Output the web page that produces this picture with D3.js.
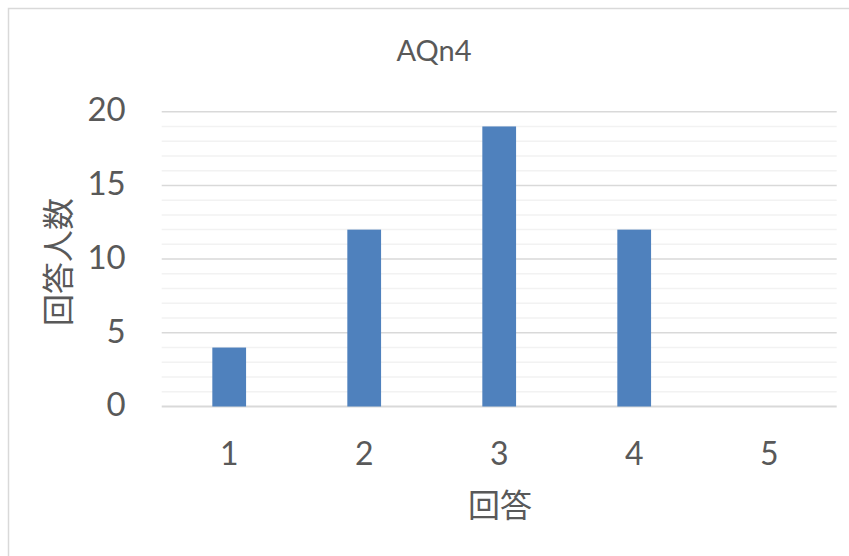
<!DOCTYPE html>
<html>
<head>
<meta charset="utf-8">
<script src="https://cdn.jsdelivr.net/npm/d3@7"></script>
<style>
  html, body { margin: 0; padding: 0; background: #fff; }
  svg { display: block; }
  text { fill: #595959; }
</style>
</head>
<body>
<svg id="chart" width="849" height="556"></svg>
<script>
// Responses per answer choice
const categories = ["1", "2", "3", "4", "5"];
const counts = [4, 12, 19, 12, 0];
const yTicks = [0, 5, 10, 15, 20];
const yMinorTicks = d3.range(0, 21, 1);
const chartTitle = "AQn4";
const xTitle = "回答";
const yTitle = "回答人数";

const W = 849, H = 556;
const plot = { left: 161.7, right: 836.7, top: 111.7, bottom: 406.5 };
const latin = "Lato, 'Noto Sans', sans-serif";
const cjk = "'Noto Sans CJK JP', 'Noto Sans CJK SC', sans-serif";

const svg = d3.select("#chart");

// Chart area outline
svg.append("rect")
  .attr("x", 8.5).attr("y", 8.5)
  .attr("width", W + 20).attr("height", H + 20)
  .attr("fill", "#fff")
  .attr("stroke", "#d9d9d9").attr("stroke-width", 1.5);

const x = d3.scaleBand()
  .domain(categories)
  .range([plot.left, plot.right])
  .paddingInner(0.75)
  .paddingOuter(0.375);

const y = d3.scaleLinear()
  .domain([0, 20])
  .range([plot.bottom, plot.top]);

// Minor gridlines
svg.append("g").selectAll("line")
  .data(yMinorTicks.filter(v => v % 5 !== 0))
  .join("line")
  .attr("x1", plot.left).attr("x2", plot.right)
  .attr("y1", d => y(d)).attr("y2", d => y(d))
  .attr("stroke", "#f2f2f2").attr("stroke-width", 1.5);

// Major gridlines
svg.append("g").selectAll("line")
  .data(yTicks)
  .join("line")
  .attr("x1", plot.left).attr("x2", plot.right)
  .attr("y1", d => y(d)).attr("y2", d => y(d))
  .attr("stroke", "#d9d9d9").attr("stroke-width", d => d === 0 ? 2 : 1.5);

// Bars
svg.append("g").selectAll("rect")
  .data(categories.map((c, i) => ({ c, v: counts[i] })))
  .join("rect")
  .attr("x", d => x(d.c))
  .attr("width", x.bandwidth())
  .attr("y", d => y(d.v))
  .attr("height", d => y(0) - y(d.v))
  .attr("fill", "#4f81bd");

// Y axis tick labels
const yAxis = d3.axisLeft(y).tickValues(yTicks).tickSize(0).tickPadding(0);
const yg = svg.append("g")
  .attr("transform", `translate(${plot.left - 36},0)`)
  .call(yAxis);
yg.select(".domain").remove();
yg.selectAll("text")
  .attr("font-family", latin).attr("font-size", 33)
  .attr("fill", "#595959")
  .attr("dy", "0.28em");

// X axis tick labels
const xAxis = d3.axisBottom(x).tickSize(0).tickPadding(0);
const xg = svg.append("g")
  .attr("transform", `translate(0,${plot.bottom})`)
  .call(xAxis);
xg.select(".domain").remove();
xg.selectAll("text")
  .attr("font-family", latin).attr("font-size", 32)
  .attr("fill", "#595959")
  .attr("dy", 0)
  .attr("y", 58.5);

// Chart title
svg.append("text")
  .attr("x", 434).attr("y", 60.5)
  .attr("text-anchor", "middle")
  .attr("font-family", latin).attr("font-size", 29)
  .text(chartTitle);

// X axis title
svg.append("text")
  .attr("x", 500).attr("y", 517)
  .attr("text-anchor", "middle")
  .attr("font-family", cjk).attr("font-size", 32)
  .text(xTitle);

// Y axis title
svg.append("text")
  .attr("transform", "translate(70,262) rotate(-90)")
  .attr("text-anchor", "middle")
  .attr("font-family", cjk).attr("font-size", 32)
  .text(yTitle);
</script>
</body>
</html>
